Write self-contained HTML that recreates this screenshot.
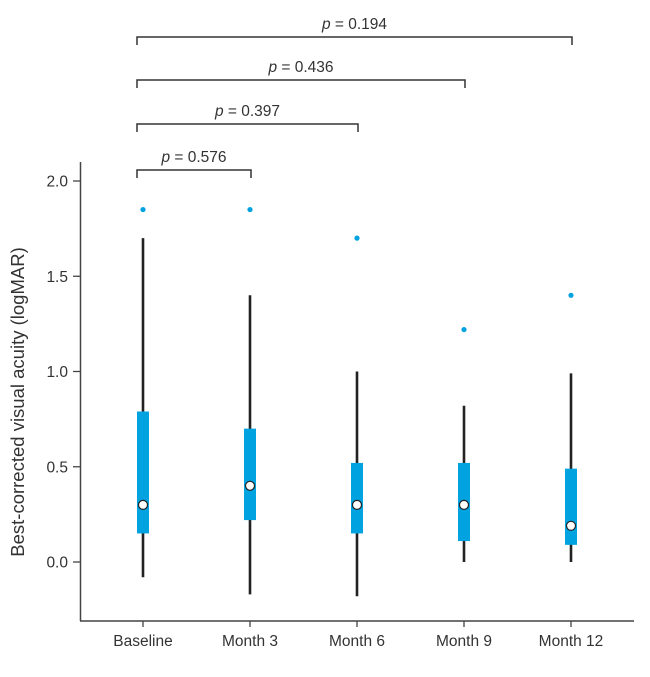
<!DOCTYPE html>
<html><head><meta charset="utf-8"><style>
body{margin:0;background:#fff;}
svg text{font-family:"Liberation Sans",Arial,sans-serif;fill:#333;}
</style></head><body>
<svg id="chart" width="650" height="672" viewBox="0 0 650 672" xmlns="http://www.w3.org/2000/svg"></svg>
<script>
const categories = ["Baseline","Month 3","Month 6","Month 9","Month 12"];
const whiskerLow = [-0.08,-0.17,-0.18,0.00,0.00];
const whiskerHigh = [1.70,1.40,1.00,0.82,0.99];
const q1 = [0.15,0.22,0.15,0.11,0.09];
const q3 = [0.79,0.70,0.52,0.52,0.49];
const medians = [0.30,0.40,0.30,0.30,0.19];
const outliers = [1.85,1.85,1.70,1.22,1.40];
const yTicks = [0.0,0.5,1.0,1.5,2.0];
const yTickLabels = ["0.0","0.5","1.0","1.5","2.0"];
const comparisons = [[0,1],[0,2],[0,3],[0,4]];
const pValues = ["0.576","0.397","0.436","0.194"];

const NS="http://www.w3.org/2000/svg";
const svg=document.getElementById('chart');
const y=v=>562-v*190.5;
const x=i=>143+i*107;
function el(t,a,p){const e=document.createElementNS(NS,t);for(const k in a)e.setAttribute(k,a[k]);(p||svg).appendChild(e);return e;}

const yAxis=el('line',{x1:80.5,y1:162,x2:80.5,y2:621,stroke:'#444','stroke-width':1.5});


const xAxis=el('line',{x1:80,y1:621,x2:634,y2:621,stroke:'#444','stroke-width':1.5});



yTicks.forEach((v,i)=>{
  const t=el('line',{x1:73,y1:y(v),x2:80,y2:y(v),stroke:'#444','stroke-width':1.3});
  
  
  const l=el('text',{x:68,y:y(v)+5.5,'text-anchor':'end','font-size':15.5});
  l.textContent=yTickLabels[i];
  
  
});
const yt=el('text',{x:0,y:0,'text-anchor':'middle','font-size':18.5,transform:'translate(24,402) rotate(-90)'});
yt.textContent='Best-corrected visual acuity (logMAR)';



categories.forEach((c,i)=>{
  const cx=x(i);
  const t=el('line',{x1:cx,y1:621,x2:cx,y2:627,stroke:'#444','stroke-width':1.3});
  
  
  const l=el('text',{x:cx,y:646,'text-anchor':'middle','font-size':15.5});
  l.textContent=c;
  
  
  const w=el('line',{x1:cx,y1:y(whiskerLow[i]),x2:cx,y2:y(whiskerHigh[i]),stroke:'#222','stroke-width':2.6});
  
  
  const b=el('rect',{x:cx-6,y:y(q3[i]),width:12,height:y(q1[i])-y(q3[i]),fill:'#00a3e0'});
  
  
  const m=el('circle',{cx:cx,cy:y(medians[i]),r:4.5,fill:'#fff',stroke:'#222','stroke-width':1.2});
  
  
  const o=el('circle',{cx:cx,cy:y(outliers[i]),r:2.6,fill:'#00a3e0'});
  
  
});

const bracketY=[170,124,80,37];
comparisons.forEach((pr,k)=>{
  const x1=x(pr[0])-6, x2=x(pr[1])+1, by=bracketY[k];
  const p=el('path',{d:`M${x1},${by+8}V${by}H${x2}V${by+8}`,fill:'none',stroke:'#333','stroke-width':1.5});
  
  
  const t=el('text',{x:(x1+x2)/2,y:by-8,'text-anchor':'middle','font-size':15.5});
  t.innerHTML='<tspan font-style="italic">p</tspan> = '+pValues[k];
  
  
});
</script>
</body></html>
